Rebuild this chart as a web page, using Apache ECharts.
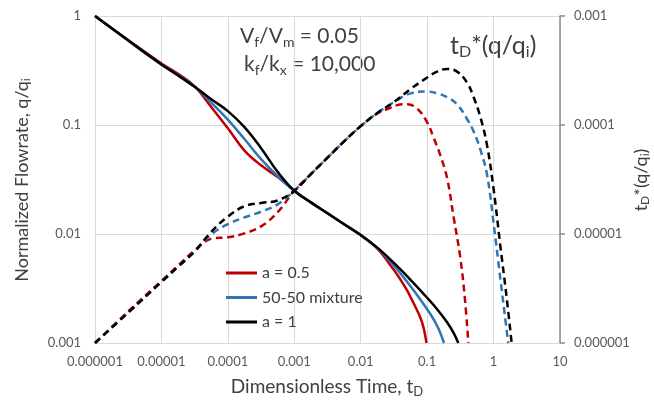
<!DOCTYPE html>
<html>
<head>
<meta charset="utf-8">
<script src="https://cdn.jsdelivr.net/npm/echarts@6/dist/echarts.min.js"></script>
<style>html,body{margin:0;padding:0;background:#fff;}#c{width:654px;height:403px;}</style>
</head>
<body>
<div id="c"></div>
<script>
// ---- Data ----
const xTickLabels = ['0.000001','0.00001','0.0001','0.001','0.01','0.1','1','10'];
const yLeftTickLabels = ['0.001','0.01','0.1','1'];
const yRightTickLabels = ['0.000001','0.00001','0.0001','0.001'];
const legendNames = ['a = 0.5', '50-50 mixture', 'a = 1'];

// Normalized flowrate q/qi (left axis)
const tQRed   = [1e-6,3.162e-6,1e-5,1.778e-5,3.162e-5,5.623e-5,1e-4,1.778e-4,3.162e-4,5.623e-4,1e-3,1.778e-3,3.162e-3,5.623e-3,0.01,0.01778,0.03162,0.03981,0.05012,0.0631,0.07943,0.08913,0.09772];
const qRed    = [1,0.6026,0.3673,0.2951,0.2265,0.1462,0.09333,0.05821,0.04266,0.03327,0.02495,0.0195,0.01549,0.0123,0.009772,0.007328,0.004677,0.003802,0.00302,0.002291,0.001698,0.001349,0.001];
const tQBlue  = [1e-6,3.162e-6,1e-5,1.778e-5,3.162e-5,5.623e-5,1e-4,1.778e-4,3.162e-4,5.623e-4,1e-3,1.778e-3,3.162e-3,5.623e-3,0.01,0.01778,0.03162,0.05623,0.1,0.1259,0.1514,0.1795];
const qBlue   = [1,0.5957,0.3589,0.2884,0.2249,0.1603,0.1119,0.0743,0.04864,0.03388,0.02495,0.0195,0.01549,0.0123,0.009772,0.007413,0.005129,0.003311,0.002042,0.001641,0.001318,0.001];
const tQBlack = [1e-6,3.162e-6,1e-5,1.778e-5,3.162e-5,5.623e-5,1e-4,1.778e-4,3.162e-4,5.623e-4,1e-3,1.778e-3,3.162e-3,5.623e-3,0.01,0.01778,0.03162,0.05623,0.1,0.1413,0.1995,0.2512,0.2944];
const qBlack  = [1,0.5957,0.3589,0.2851,0.2239,0.1722,0.134,0.0955,0.06124,0.03715,0.02495,0.0195,0.01549,0.0123,0.009772,0.0075,0.005433,0.003802,0.0026,0.002042,0.001549,0.00123,0.001];

// tD*(q/qi) (right axis)
const tDRed   = [1e-6,3.162e-6,1e-5,1.778e-5,3.162e-5,5.623e-5,1e-4,1.778e-4,3.162e-4,5.623e-4,1e-3,1.778e-3,3.162e-3,5.623e-3,0.01,0.01778,0.02512,0.03548,0.05012,0.07079,0.1,0.1259,0.1585,0.1995,0.2512,0.3162,0.3715,0.4169];
const dRed    = [1e-6,1.95e-6,3.715e-6,5.129e-6,7.079e-6,9.016e-6,9.333e-6,1.012e-5,1.175e-5,1.585e-5,2.495e-5,3.548e-5,5.012e-5,7.079e-5,9.772e-5,1.274e-4,1.396e-4,1.521e-4,1.549e-4,1.413e-4,1.059e-4,7.586e-5,5.248e-5,3.266e-5,1.413e-5,6.026e-6,2.477e-6,1e-6];
const tDBlue  = [1e-6,3.162e-6,1e-5,1.778e-5,3.162e-5,5.623e-5,1e-4,1.778e-4,3.162e-4,5.623e-4,1e-3,1.778e-3,3.162e-3,5.623e-3,0.01,0.01778,0.03162,0.05623,0.1,0.1413,0.1995,0.2818,0.3981,0.5012,0.631,0.7943,1,1.259,1.663];
const dBlue   = [1e-6,1.905e-6,3.631e-6,5.012e-6,6.918e-6,9.886e-6,1.23e-5,1.419e-5,1.603e-5,1.871e-5,2.495e-5,3.548e-5,5.012e-5,7.079e-5,9.772e-5,1.288e-4,1.622e-4,1.95e-4,2.028e-4,1.954e-4,1.799e-4,1.549e-4,1.135e-4,8.71e-5,5.984e-5,3.548e-5,1.259e-5,3.981e-6,1e-6];
const tDBlack = [1e-6,3.162e-6,1e-5,1.778e-5,3.162e-5,5.623e-5,1e-4,1.778e-4,3.162e-4,5.623e-4,1e-3,1.778e-3,3.162e-3,5.623e-3,0.01,0.01778,0.03162,0.05623,0.1,0.1413,0.1995,0.2818,0.3981,0.5012,0.631,0.7943,1,1.259,1.585,1.871];
const dBlack  = [1e-6,1.905e-6,3.631e-6,5.012e-6,6.918e-6,1.047e-5,1.445e-5,1.799e-5,1.928e-5,2.032e-5,2.495e-5,3.548e-5,5.012e-5,7.079e-5,9.772e-5,1.288e-4,1.622e-4,2.138e-4,2.723e-4,3.09e-4,3.266e-4,3.09e-4,2.455e-4,1.799e-4,1.189e-4,6.607e-5,2.6e-5,7.943e-6,2.512e-6,1e-6];

// ---- Styling ----
const RED = '#c00000', BLUE = '#2e75b6', BLACK = '#000000';
const FONT = 'Lato';
const TXT = '#404040';
const zip = (a, b) => a.map((v, i) => [v, b[i]]);
const expIdx = v => Math.round(Math.log10(v));

function solid(name, t, q, color) {
  return { name, type: 'line', xAxisIndex: 0, yAxisIndex: 0, data: zip(t, q), showSymbol: false,
    smooth: 0.4, lineStyle: { color, width: 2.5 }, itemStyle: { color }, z: 3 };
}
function dashed(name, t, v, color) {
  return { name, type: 'line', xAxisIndex: 0, yAxisIndex: 1, data: zip(t, v), showSymbol: false,
    smooth: 0.4, lineStyle: { color, width: 2.5, type: [7, 4.5] }, itemStyle: { color }, z: 2 };
}

const sub = (fs) => ({ fontSize: fs, fontFamily: FONT, fill: TXT, padding: [Math.round(fs * 0.75), 0, 0, 0] });

const chart = echarts.init(document.getElementById('c'), null, { renderer: 'canvas' });
chart.setOption({
  animation: false,
  backgroundColor: '#fff',
  grid: { left: 95, right: 94, top: 16, bottom: 60 },
  xAxis: {
    type: 'log', logBase: 10, min: 1e-6, max: 10, splitNumber: 7,
    axisLine: { show: true, lineStyle: { color: '#d9d9d9', width: 1 } },
    axisTick: { show: false },
    splitLine: { show: true, lineStyle: { color: '#d9d9d9', width: 1 } },
    axisLabel: { color: '#595959', fontSize: 13, fontFamily: FONT, margin: 12,
      formatter: v => xTickLabels[expIdx(v) + 6] }
  },
  yAxis: [
    {
      type: 'log', logBase: 10, min: 0.001, max: 1, splitNumber: 3, position: 'left',
      axisLine: { show: true, lineStyle: { color: '#d9d9d9', width: 1 } },
      axisTick: { show: false },
      splitLine: { show: true, lineStyle: { color: '#d9d9d9', width: 1 } },
      axisLabel: { color: '#595959', fontSize: 13, fontFamily: FONT, margin: 14,
        formatter: v => yLeftTickLabels[expIdx(v) + 3] }
    },
    {
      type: 'log', logBase: 10, min: 1e-6, max: 1e-3, splitNumber: 3, position: 'right',
      axisLine: { show: true, lineStyle: { color: '#8c8c8c', width: 1.5 } },
      axisTick: { show: true, inside: false, length: 5, lineStyle: { color: '#8c8c8c', width: 1.5 } },
      splitLine: { show: false },
      axisLabel: { color: '#595959', fontSize: 13, fontFamily: FONT, margin: 14,
        formatter: v => yRightTickLabels[expIdx(v) + 6] }
    }
  ],
  legend: {
    data: legendNames, orient: 'vertical', left: 221, top: 259, itemGap: 6.5,
    icon: 'rect', itemWidth: 31, itemHeight: 3,
    textStyle: { color: TXT, fontSize: 16, fontFamily: FONT, lineHeight: 18 },
    selectedMode: false
  },
  series: [
    dashed('dRed', tDRed, dRed, RED),
    dashed('dBlue', tDBlue, dBlue, BLUE),
    dashed('dBlack', tDBlack, dBlack, BLACK),
    solid(legendNames[0], tQRed, qRed, RED),
    solid(legendNames[1], tQBlue, qBlue, BLUE),
    solid(legendNames[2], tQBlack, qBlack, BLACK)
  ],
  graphic: [
    { type: 'text', left: 240, top: 26, style: { text: 'V{s|f}/V{s|m} = 0.05', fontSize: 21, fontFamily: FONT, fill: TXT, rich: { s: sub(14) } } },
    { type: 'text', left: 244, top: 54, style: { text: 'k{s|f}/k{s|x} = 10,000', fontSize: 21, fontFamily: FONT, fill: TXT, rich: { s: sub(14) } } },
    { type: 'text', left: 450, top: 33, style: { text: 't{s|D}*(q/q{s|i})', fontSize: 25, fontFamily: FONT, fill: TXT, rich: { s: sub(16) } } },
    { type: 'text', x: 327, y: 387, style: { text: 'Dimensionless Time, t{s|D}', fontSize: 19, fontFamily: FONT, fill: TXT, align: 'center', verticalAlign: 'middle', rich: { s: sub(13) } } },
    { type: 'text', x: 22, y: 180, rotation: Math.PI / 2, style: { text: 'Normalized Flowrate, q/q{s|i}', fontSize: 18, fontFamily: FONT, fill: TXT, align: 'center', verticalAlign: 'middle', rich: { s: sub(12) } } },
    { type: 'text', x: 641, y: 180, rotation: Math.PI / 2, style: { text: 't{s|D}*(q/q{s|i})', fontSize: 18, fontFamily: FONT, fill: TXT, align: 'center', verticalAlign: 'middle', rich: { s: sub(12) } } }
  ]
});
</script>
</body>
</html>
